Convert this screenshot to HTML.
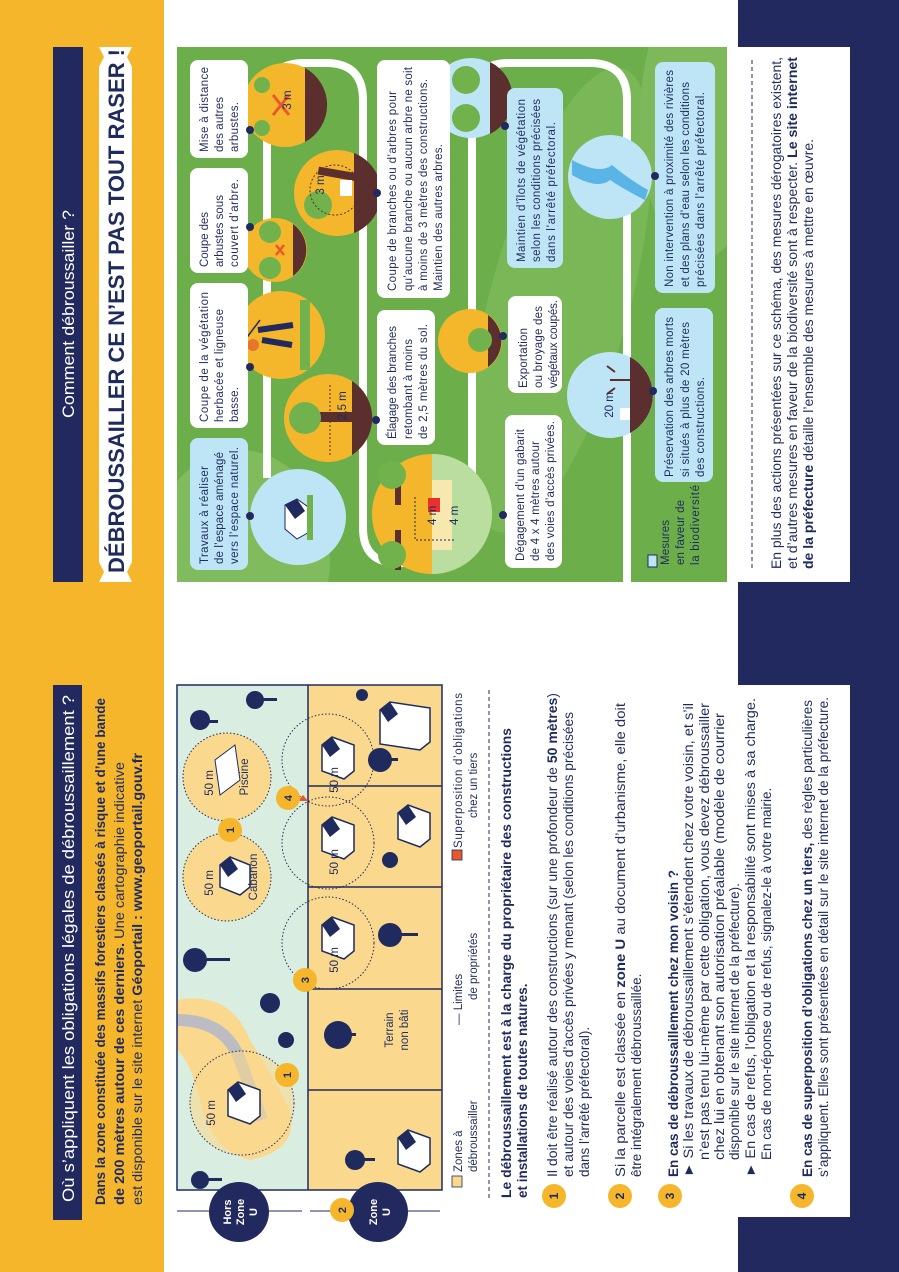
<!DOCTYPE html>
<html><head><meta charset="utf-8"><style>
html,body{margin:0;padding:0;background:#fff;}
svg{display:block;}
text{font-family:"Liberation Sans",sans-serif;}
</style></head><body>
<svg width="899" height="1272" viewBox="0 0 899 1272" xmlns="http://www.w3.org/2000/svg">
<defs>
<style>
.n{fill:#1f2b5e}
.t{fill:#1f2b5e;font-size:11.5px}
.b{font-weight:bold}
</style>
<clipPath id="g"><rect x="177" y="47" width="550" height="535"/></clipPath>
</defs>
<rect x="0" y="0" width="899" height="1272" fill="#fff"/>
<rect x="0" y="0" width="164" height="1272" fill="#f5b62c"/>
<rect x="738" y="0" width="161" height="47" fill="#22295e"/>
<rect x="850" y="0" width="49" height="1272" fill="#22295e"/>
<rect x="738" y="582" width="161" height="103" fill="#22295e"/>
<rect x="738" y="1217" width="161" height="55" fill="#22295e"/>
<path d="M738 47 H838 Q850 47 850 59 V570 Q850 582 838 582 H738 Z" fill="#fff"/>
<path d="M738 685 H850 V1205 Q850 1217 838 1217 H738 Z" fill="#fff"/>

<rect x="53" y="47" width="30" height="535" fill="#22295e"/>
<text transform="translate(74,418) rotate(-90)" fill="#fff" font-size="17" textLength="208" lengthAdjust="spacingAndGlyphs">Comment débroussailler ?</text>
<path d="M99 47 L132 47 L127 57 L132 67 L132 562 L127 572 L132 582 L99 582 L104 572 L99 562 L99 67 L104 57 Z" fill="#fff"/>
<text transform="translate(124,573) rotate(-90)" class="n b" font-size="22" textLength="524" lengthAdjust="spacingAndGlyphs">DÉBROUSSAILLER CE N’EST PAS TOUT RASER !</text>

<g clip-path="url(#g)">
<rect x="177" y="47" width="550" height="535" fill="#6cae4a"/>
<ellipse cx="240" cy="560" rx="90" ry="110" fill="#80bb5d"/>
<ellipse cx="560" cy="300" rx="70" ry="240" fill="#79b757" transform="rotate(15 560 300)"/>
<ellipse cx="700" cy="120" rx="60" ry="140" fill="#7db95b"/>
<path d="M267 478 L267 100 Q267 63 304 63 L326 63 Q363 63 363 100 L363 528 Q363 563 398 563 L437 563 Q472 563 472 528 L472 100 Q472 63 509 63 L590 63 Q627 63 627 100 L627 582" fill="none" stroke="#fff" stroke-width="8"/>

<circle cx="285" cy="105" r="42" fill="#f4b62b"/>
<path d="M305 68 A42 42 0 0 1 305 142 Z" fill="#5a2f2e"/>
<path d="M273 95 l16 20 M289 95 l-16 20" stroke="#e8582c" stroke-width="3"/>
<circle cx="262" cy="85" r="8" fill="#72b24c"/><circle cx="262" cy="128" r="8" fill="#72b24c"/>
<text transform="translate(291,100) rotate(-90)" class="t" text-anchor="middle">3 m</text>

<circle cx="275" cy="250" r="32" fill="#f4b62b"/>
<path d="M293 224 A32 32 0 0 1 293 276 Z" fill="#5a2f2e"/>
<circle cx="270" cy="232" r="11" fill="#72b24c"/><circle cx="270" cy="268" r="11" fill="#72b24c"/>
<path d="M276 245 l8 10 M284 245 l-8 10" stroke="#e8582c" stroke-width="2.5"/>

<circle cx="337" cy="193" r="43" fill="#f4b62b"/>
<path d="M354 153 A43 43 0 0 1 354 233 Z" fill="#5a2f2e"/>
<rect x="318" y="170" width="40" height="8" fill="#5a2f2e" transform="rotate(10 338 174)"/>
<circle cx="318" cy="205" r="14" fill="#72b24c"/>
<rect x="340" y="180" width="12" height="16" fill="#fff"/>
<circle cx="335" cy="190" r="25" fill="none" stroke="#5a2f2e" stroke-dasharray="2 2"/>
<text transform="translate(324,185) rotate(-90)" class="t" text-anchor="middle">3 m</text>

<circle cx="281" cy="335" r="44" fill="#f4b62b"/>
<rect x="300" y="300" width="10" height="70" fill="#72b24c"/>
<path d="M258 330 l35 -5 M262 340 l30 5" stroke="#22295e" stroke-width="6"/>
<circle cx="253" cy="345" r="6" fill="#e8752c"/>
<path d="M260 320 L230 360" stroke="#22295e" stroke-width="1.5"/>

<circle cx="328" cy="418" r="44" fill="#f4b62b"/>
<path d="M352 381 A44 44 0 0 1 352 455 Z" fill="#5a2f2e"/>
<rect x="310" y="412" width="42" height="10" fill="#5a2f2e"/>
<circle cx="305" cy="418" r="16" fill="#72b24c"/>
<path d="M330 385 V455" stroke="#5a2f2e" stroke-dasharray="2 2"/>
<text transform="translate(346,420) rotate(-90)" class="t">2,5 m</text>

<circle cx="298" cy="517" r="48" fill="#bde5f5"/>
<path d="M285 505 l12 -6 l14 10 v22 l-14 8 l-12 -10 Z" fill="#fff" stroke="#22295e"/>
<path d="M285 505 l12 -6 l8 12 l-10 8 Z" fill="#22295e"/>
<path d="M310 495 v45" stroke="#72b24c" stroke-width="6"/>

<circle cx="432" cy="514" r="60" fill="#f4b62b"/>
<path d="M432 454 A60 60 0 0 1 432 574 Z" fill="#b9dea0"/>
<rect x="432" y="480" width="20" height="70" fill="#f7e8b0"/>
<rect x="395" y="465" width="6" height="40" fill="#5a2f2e"/><circle cx="392" cy="475" r="14" fill="#72b24c"/>
<rect x="395" y="530" width="6" height="40" fill="#5a2f2e"/><circle cx="392" cy="555" r="14" fill="#72b24c"/>
<rect x="428" y="498" width="12" height="14" fill="#e8302c"/>
<path d="M415 497 V540 H455" fill="none" stroke="#22295e" stroke-dasharray="2 2"/>
<text transform="translate(436,525) rotate(-90)" class="t">4 m</text>
<text transform="translate(458,525) rotate(-90)" class="t">4 m</text>

<circle cx="470" cy="341" r="32" fill="#f4b62b"/>
<path d="M488 315 A32 32 0 0 1 488 367 Z" fill="#5a2f2e"/>
<circle cx="480" cy="340" r="12" fill="#72b24c"/>

<circle cx="471" cy="98" r="40" fill="#bde5f5"/>
<path d="M490 62 A40 40 0 0 1 490 134 Z" fill="#5a2f2e"/>
<circle cx="466" cy="80" r="14" fill="#72b24c"/><circle cx="466" cy="118" r="14" fill="#72b24c"/>

<circle cx="610" cy="177" r="42" fill="#bde5f5"/>
<path d="M572 160 Q600 175 612 165 Q630 180 648 190 L645 200 Q625 190 610 180 Q598 190 572 175 Z" fill="#5ab4e6"/>

<circle cx="610" cy="395" r="43" fill="#bde5f5"/>
<path d="M630 357 A43 43 0 0 1 630 433 Z" fill="#5a2f2e"/>
<path d="M630 380 h-20 M615 372 l-8 -6 M615 388 l-8 6" stroke="#5a2f2e" stroke-width="2"/>
<rect x="620" y="408" width="10" height="12" fill="#fff"/>
<text transform="translate(613,405) rotate(-90)" class="t" text-anchor="middle">20 m</text>
</g>

<g fill="#fff">
<rect x="190" y="60" width="58" height="98" rx="8"/>
<rect x="190" y="168" width="58" height="105" rx="8"/>
<rect x="190" y="283" width="58" height="145" rx="8"/>
<rect x="190" y="438" width="58" height="132" rx="8" fill="#bde5f5"/>
<rect x="377" y="60" width="73" height="238" rx="8"/>
<rect x="377" y="310" width="58" height="135" rx="8"/>
<rect x="507" y="88" width="56" height="180" rx="8" fill="#bde5f5"/>
<rect x="655" y="62" width="60" height="231" rx="8" fill="#bde5f5"/>
<rect x="508" y="296" width="54" height="97" rx="8"/>
<rect x="505" y="415" width="57" height="153" rx="8"/>
<rect x="655" y="308" width="58" height="174" rx="8" fill="#bde5f5"/>
<rect x="648" y="555" width="9" height="12" fill="#bde5f5" stroke="#22295e"/>
</g>
<g fill="#22295e">
<circle cx="250" cy="130" r="4"/><circle cx="250" cy="227" r="4"/><circle cx="377" cy="193" r="4"/>
<circle cx="250" cy="367" r="4"/><circle cx="376" cy="420" r="4"/><circle cx="250" cy="516" r="4"/>
<circle cx="505" cy="126" r="4"/><circle cx="655" cy="176" r="4"/><circle cx="503" cy="515" r="4"/>
<circle cx="503" cy="336" r="4"/><circle cx="653" cy="391" r="4"/>
</g>
<g class="t">
<text transform="translate(208,152) rotate(-90)" textLength="85">Mise à distance</text>
<text transform="translate(223,152) rotate(-90)" textLength="55">des autres</text>
<text transform="translate(238,152) rotate(-90)" textLength="50">arbustes.</text>
<text transform="translate(208,267) rotate(-90)" textLength="55">Coupe des</text>
<text transform="translate(223,267) rotate(-90)" textLength="72">arbustes sous</text>
<text transform="translate(238,267) rotate(-90)" textLength="88">couvert d’arbre.</text>
<text transform="translate(208,422) rotate(-90)" textLength="130">Coupe de la végétation</text>
<text transform="translate(223,422) rotate(-90)" textLength="113">herbacée et ligneuse</text>
<text transform="translate(238,422) rotate(-90)" textLength="35">basse.</text>
<text transform="translate(208,564) rotate(-90)" textLength="98">Travaux à réaliser</text>
<text transform="translate(223,564) rotate(-90)" textLength="112">de l’espace aménagé</text>
<text transform="translate(238,564) rotate(-90)" textLength="117">vers l’espace naturel.</text>
<text transform="translate(396,291) rotate(-90)" textLength="200">Coupe de branches ou d’arbres pour</text>
<text transform="translate(412,291) rotate(-90)" textLength="224">qu’aucune branche ou aucun arbre ne soit</text>
<text transform="translate(427,291) rotate(-90)" textLength="212">à moins de 3 mètres des constructions.</text>
<text transform="translate(442,291) rotate(-90)" textLength="147">Maintien des autres arbres.</text>
<text transform="translate(396,439) rotate(-90)" textLength="113">Élagage des branches</text>
<text transform="translate(412,439) rotate(-90)" textLength="100">retombant à moins</text>
<text transform="translate(427,439) rotate(-90)" textLength="115">de 2,5 mètres du sol.</text>
<text transform="translate(525,262) rotate(-90)" textLength="163">Maintien d’îlots de végétation</text>
<text transform="translate(540,262) rotate(-90)" textLength="163">selon les conditions précisées</text>
<text transform="translate(555,262) rotate(-90)" textLength="140">dans l’arrêté préfectoral.</text>
<text transform="translate(527,388) rotate(-90)" textLength="60">Exportation</text>
<text transform="translate(542,388) rotate(-90)" textLength="82">ou broyage des</text>
<text transform="translate(557,388) rotate(-90)" textLength="88">végétaux coupés.</text>
<text transform="translate(524,561) rotate(-90)" textLength="132">Dégagement d’un gabarit</text>
<text transform="translate(539,561) rotate(-90)" textLength="120">de 4 x 4 mètres autour</text>
<text transform="translate(554,561) rotate(-90)" textLength="140">des voies d’accès privées.</text>
<text transform="translate(673,287) rotate(-90)" textLength="217">Non intervention à proximité des rivières</text>
<text transform="translate(689,287) rotate(-90)" textLength="205">et des plans d’eau selon les conditions</text>
<text transform="translate(704,287) rotate(-90)" textLength="195">précisées dans l’arrêté préfectoral.</text>
<text transform="translate(673,477) rotate(-90)" textLength="160">Préservation des arbres morts</text>
<text transform="translate(689,477) rotate(-90)" textLength="155">si situés à plus de 20 mètres</text>
<text transform="translate(704,477) rotate(-90)" textLength="100">des constructions.</text>
<text transform="translate(669,565) rotate(-90)" textLength="45">Mesures</text>
<text transform="translate(684,565) rotate(-90)" textLength="65">en faveur de</text>
<text transform="translate(699,565) rotate(-90)" textLength="80">la biodiversité</text>
</g>

<path d="M752 60 V570" stroke="#22295e" stroke-dasharray="4 3"/>
<g class="n" font-size="14">
<text transform="translate(781,569) rotate(-90)" textLength="512" lengthAdjust="spacingAndGlyphs">En plus des actions présentées sur ce schéma, des mesures dérogatoires existent,</text>
<text transform="translate(797,569) rotate(-90)" textLength="512" lengthAdjust="spacingAndGlyphs">et d’autres mesures en faveur de la biodiversité sont à respecter. <tspan class="b">Le site internet</tspan></text>
<text transform="translate(813,569) rotate(-90)" textLength="430" lengthAdjust="spacingAndGlyphs"><tspan class="b">de la préfecture</tspan> détaille l’ensemble des mesures à mettre en œuvre.</text>
</g>

<rect x="53" y="685" width="29" height="535" fill="#22295e"/>
<text transform="translate(74,1202) rotate(-90)" fill="#fff" font-size="17" textLength="507" lengthAdjust="spacingAndGlyphs">Où s’appliquent les obligations légales de débroussaillement ?</text>
<g class="n" font-size="14">
<text transform="translate(105,1205) rotate(-90)" class="b" textLength="507" lengthAdjust="spacingAndGlyphs">Dans la zone constituée des massifs forestiers classés à risque et d’une bande</text>
<text transform="translate(124,1205) rotate(-90)" textLength="443" lengthAdjust="spacingAndGlyphs"><tspan class="b">de 200 mètres autour de ces derniers.</tspan> Une cartographie indicative</text>
<text transform="translate(142,1205) rotate(-90)" textLength="452" lengthAdjust="spacingAndGlyphs">est disponible sur le site internet <tspan class="b">Géoportail : www.geoportail.gouv.fr</tspan></text>
</g>

<rect x="177" y="685" width="131" height="505" fill="#d9eee0"/>
<rect x="308" y="685" width="134" height="505" fill="#fad98e"/>
<path d="M177 1000 Q230 990 250 1040 Q275 1080 290 1110 Q300 1150 250 1160 Q210 1150 200 1100 Q190 1060 177 1050 Z" fill="#fad98e"/>
<path d="M177 1020 Q225 1020 240 1060 Q255 1100 262 1120" fill="none" stroke="#bcbcc2" stroke-width="12"/>
<circle cx="227" cy="777" r="44" fill="#fad98e" stroke="#1f2b5e" stroke-dasharray="1.5 2"/>
<circle cx="227" cy="877" r="44" fill="#fad98e" stroke="#1f2b5e" stroke-dasharray="1.5 2"/>
<circle cx="242" cy="1103" r="52" fill="#fad98e" fill-opacity="0.6" stroke="#1f2b5e" stroke-dasharray="1.5 2"/>
<circle cx="328" cy="760" r="46" fill="none" stroke="#1f2b5e" stroke-dasharray="1.5 2"/>
<circle cx="328" cy="843" r="46" fill="none" stroke="#1f2b5e" stroke-dasharray="1.5 2"/>
<circle cx="328" cy="943" r="46" fill="none" stroke="#1f2b5e" stroke-dasharray="1.5 2"/>
<g stroke="#1f2b5e" stroke-width="1.5" fill="none">
<rect x="177" y="685" width="265" height="505"/>
<path d="M308 685 V1190 M308 786 H442 M308 887 H442 M308 989 H442 M308 1090 H442"/>
</g>
<g fill="#fff" stroke="#1f2b5e" stroke-width="1.5">
<path d="M322 745 l10 -8 l22 8 v26 l-10 8 l-22 -8 Z"/><path d="M322 825 l10 -8 l22 8 v26 l-10 8 l-22 -8 Z"/>
<path d="M322 925 l10 -8 l22 8 v26 l-10 8 l-22 -8 Z"/><path d="M398 813 l10 -8 l22 8 v26 l-10 8 l-22 -8 Z"/>
<path d="M398 1138 l10 -8 l22 8 v26 l-10 8 l-22 -8 Z"/><path d="M228 1090 l10 -8 l22 8 v26 l-10 8 l-22 -8 Z"/>
<path d="M380 710 l10 -8 l40 6 v34 l-10 8 l-40 -6 Z"/>
<path d="M220 865 l10 -8 l20 8 v22 l-10 8 l-20 -8 Z"/>
</g>
<g fill="#1f2b5e">
<path d="M322 745 l10 -8 l8 12 l-10 8 Z"/><path d="M322 825 l10 -8 l8 12 l-10 8 Z"/><path d="M322 925 l10 -8 l8 12 l-10 8 Z"/>
<path d="M398 813 l10 -8 l8 12 l-10 8 Z"/><path d="M398 1138 l10 -8 l8 12 l-10 8 Z"/><path d="M228 1090 l10 -8 l8 12 l-10 8 Z"/>
<path d="M380 710 l10 -8 l8 12 l-10 8 Z"/><path d="M220 865 l10 -8 l8 12 l-10 8 Z"/>
</g>
<path d="M215 760 l20 -15 l5 35 l-20 15 Z" fill="#fff" stroke="#1f2b5e"/>
<g class="n">
<circle cx="200" cy="720" r="10"/><rect x="198" y="720" width="20" height="3"/>
<circle cx="255" cy="700" r="9"/><rect x="255" y="698" width="22" height="3"/>
<circle cx="195" cy="960" r="12"/><rect x="195" y="958" width="35" height="3"/>
<circle cx="200" cy="1180" r="9"/><rect x="200" y="1178" width="22" height="3"/>
<circle cx="286" cy="1040" r="8"/><circle cx="270" cy="1003" r="10"/>
<circle cx="380" cy="760" r="12"/><rect x="380" y="758" width="18" height="3"/>
<circle cx="390" cy="935" r="12"/><rect x="390" y="933" width="28" height="3"/>
<circle cx="338" cy="1035" r="14"/><rect x="338" y="1033" width="18" height="3"/>
<circle cx="355" cy="1160" r="10"/><rect x="355" y="1158" width="20" height="3"/>
<circle cx="390" cy="860" r="8"/><circle cx="362" cy="695" r="6"/>
</g>
<g class="t" font-size="11">
<text transform="translate(248,777) rotate(-90)" text-anchor="middle">Piscine</text>
<text transform="translate(257,877) rotate(-90)" text-anchor="middle">Cabanon</text>
<text transform="translate(213,783) rotate(-90)" text-anchor="middle">50 m</text>
<text transform="translate(213,883) rotate(-90)" text-anchor="middle">50 m</text>
<text transform="translate(215,1113) rotate(-90)" text-anchor="middle">50 m</text>
<text transform="translate(338,780) rotate(-90)" text-anchor="middle">50 m</text>
<text transform="translate(338,862) rotate(-90)" text-anchor="middle">50 m</text>
<text transform="translate(338,960) rotate(-90)" text-anchor="middle">50 m</text>
<text transform="translate(393,1030) rotate(-90)" text-anchor="middle">Terrain</text>
<text transform="translate(408,1030) rotate(-90)" text-anchor="middle">non bâti</text>
</g>
<path d="M303 795 l-5 6 h10 Z" fill="#e8582c"/>
<g font-weight="bold" font-size="11" class="n">
<circle cx="230" cy="830" r="12" fill="#f5b62c"/><text transform="translate(234,830) rotate(-90)" text-anchor="middle">1</text>
<circle cx="288" cy="798" r="12" fill="#f5b62c"/><text transform="translate(292,798) rotate(-90)" text-anchor="middle">4</text>
<circle cx="305" cy="980" r="12" fill="#f5b62c"/><text transform="translate(309,980) rotate(-90)" text-anchor="middle">3</text>
<circle cx="287" cy="1075" r="12" fill="#f5b62c"/><text transform="translate(291,1075) rotate(-90)" text-anchor="middle">1</text>
</g>
<path d="M177 1211 H302 M310 1211 H440" stroke="#1f2b5e"/>
<circle cx="239" cy="1212" r="30" fill="#22295e"/>
<circle cx="378" cy="1212" r="30" fill="#22295e"/>
<circle cx="342" cy="1210" r="12" fill="#f5b62c"/>
<text transform="translate(346,1210) rotate(-90)" class="n b" font-size="11" text-anchor="middle">2</text>
<g fill="#fff" font-size="11" text-anchor="middle" font-weight="bold">
<text transform="translate(231,1212) rotate(-90)">Hors</text>
<text transform="translate(244,1212) rotate(-90)">Zone</text>
<text transform="translate(257,1212) rotate(-90)">U</text>
<text transform="translate(377,1212) rotate(-90)">Zone</text>
<text transform="translate(390,1212) rotate(-90)">U</text>
</g>

<rect x="452" y="1176" width="10" height="11" fill="#fad98e" stroke="#1f2b5e" stroke-width="0.8"/>
<rect x="452" y="850" width="10" height="10" fill="#e8582c" stroke="#1f2b5e" stroke-width="0.8"/>
<g class="t">
<text transform="translate(462,1172) rotate(-90)">Zones à</text>
<text transform="translate(477,1172) rotate(-90)">débroussailler</text>
<text transform="translate(462,1025) rotate(-90)">— Limites</text>
<text transform="translate(477,1000) rotate(-90)">de propriétés</text>
<text transform="translate(462,848) rotate(-90)" textLength="155">Superposition d’obligations</text>
<text transform="translate(477,818) rotate(-90)">chez un tiers</text>
</g>
<path d="M489 690 V1200" stroke="#1f2b5e" stroke-dasharray="4 3"/>

<g class="n" font-size="13.5">
<text transform="translate(511,1198) rotate(-90)" class="b" textLength="470" lengthAdjust="spacingAndGlyphs">Le débroussaillement est à la charge du propriétaire des constructions</text>
<text transform="translate(527,1198) rotate(-90)" class="b">et installations de toutes natures.</text>
<text transform="translate(557,1177) rotate(-90)" textLength="484" lengthAdjust="spacingAndGlyphs">Il doit être réalisé autour des constructions (sur une profondeur de <tspan class="b">50 mètres</tspan>)</text>
<text transform="translate(573,1177) rotate(-90)" textLength="465" lengthAdjust="spacingAndGlyphs">et autour des voies d’accès privées y menant (selon les conditions précisées</text>
<text transform="translate(589,1177) rotate(-90)">dans l’arrêté préfectoral).</text>
<text transform="translate(625,1177) rotate(-90)" textLength="474" lengthAdjust="spacingAndGlyphs">Si la parcelle est classée en <tspan class="b">zone U</tspan> au document d’urbanisme, elle doit</text>
<text transform="translate(641,1177) rotate(-90)">être intégralement débroussaillée.</text>
<text transform="translate(678,1177) rotate(-90)" class="b" textLength="307" lengthAdjust="spacingAndGlyphs">En cas de débroussaillement chez mon voisin ?</text>
<text transform="translate(693,1177) rotate(-90)" textLength="474" lengthAdjust="spacingAndGlyphs">► Si les travaux de débroussaillement s’étendent chez votre voisin, et s’il</text>
<text transform="translate(709,1160) rotate(-90)" textLength="457" lengthAdjust="spacingAndGlyphs">n’est pas tenu lui-même par cette obligation, vous devez débroussailler</text>
<text transform="translate(724,1160) rotate(-90)" textLength="447" lengthAdjust="spacingAndGlyphs">chez lui en obtenant son autorisation préalable (modèle de courrier</text>
<text transform="translate(739,1160) rotate(-90)">disponible sur le site internet de la préfecture).</text>
<text transform="translate(755,1177) rotate(-90)" textLength="479" lengthAdjust="spacingAndGlyphs">► En cas de refus, l’obligation et la responsabilité sont mises à sa charge.</text>
<text transform="translate(771,1160) rotate(-90)">En cas de non-réponse ou de refus, signalez-le à votre mairie.</text>
<text transform="translate(812,1177) rotate(-90)" textLength="477" lengthAdjust="spacingAndGlyphs"><tspan class="b">En cas de superposition d’obligations chez un tiers,</tspan> des règles particulières</text>
<text transform="translate(828,1177) rotate(-90)" textLength="480" lengthAdjust="spacingAndGlyphs">s’appliquent. Elles sont présentées en détail sur le site internet de la préfecture.</text>
</g>
<g font-weight="bold" font-size="12" class="n">
<circle cx="554" cy="1196" r="12" fill="#f5b62c"/><text transform="translate(558,1196) rotate(-90)" text-anchor="middle">1</text>
<circle cx="620" cy="1196" r="12" fill="#f5b62c"/><text transform="translate(624,1196) rotate(-90)" text-anchor="middle">2</text>
<circle cx="670" cy="1196" r="12" fill="#f5b62c"/><text transform="translate(674,1196) rotate(-90)" text-anchor="middle">3</text>
<circle cx="802" cy="1196" r="12" fill="#f5b62c"/><text transform="translate(806,1196) rotate(-90)" text-anchor="middle">4</text>
</g>
</svg>
</body></html>
